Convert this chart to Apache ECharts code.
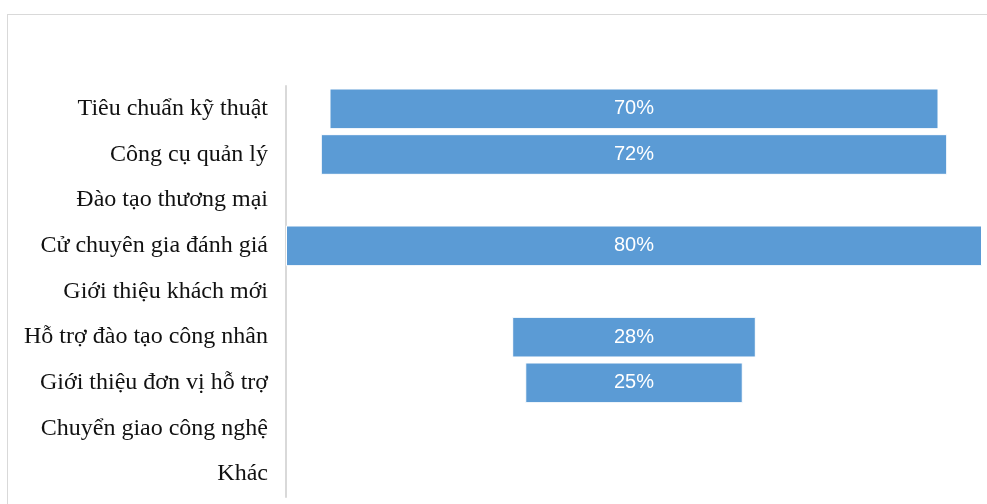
<!DOCTYPE html>
<html>
<head>
<meta charset="utf-8">
<script src="https://cdn.jsdelivr.net/npm/echarts@6/dist/echarts.min.js"></script>
<style>
  html, body { margin: 0; padding: 0; background: #fff; }
  #chart { position: absolute; left: 0; top: 0; width: 987px; height: 504px; }
  #frame { position: absolute; left: 7px; top: 14px; width: 985px; height: 495px;
           border-top: 1px solid #d9d9d9; border-left: 1px solid #d9d9d9; pointer-events: none; }
</style>
</head>
<body>
<div id="chart"></div>
<div id="frame"></div>
<script>
const categories = [
  'Tiêu chuẩn kỹ thuật',
  'Công cụ quản lý',
  'Đào tạo thương mại',
  'Cử chuyên gia đánh giá',
  'Giới thiệu khách mới',
  'Hỗ trợ đào tạo công nhân',
  'Giới thiệu đơn vị hỗ trợ',
  'Chuyển giao công nghệ',
  'Khác'
];
const values = [70, 72, 0, 80, 0, 28, 25, 0, 0];
const axisMax = 80;

const offsets = values.map(v => (axisMax - v) / 2);

const chart = echarts.init(document.getElementById('chart'));
chart.setOption({
  animation: false,
  grid: { left: 286, right: 5, top: 86, bottom: 7, containLabel: false },
  xAxis: {
    type: 'value', min: 0, max: axisMax, show: false
  },
  yAxis: {
    type: 'category',
    data: categories,
    inverse: true,
    axisLine: { show: true, lineStyle: { color: '#d9d9d9', width: 2 } },
    axisTick: { show: false },
    axisLabel: {
      color: '#111111',
      fontFamily: '"Liberation Serif", "Times New Roman", serif',
      fontSize: 24,
      margin: 18
    }
  },
  series: [
    {
      type: 'bar', stack: 'f', data: offsets, barWidth: '89%',
      itemStyle: { color: 'transparent' }, silent: true
    },
    {
      type: 'bar', stack: 'f', data: values, barWidth: '89%',
      itemStyle: { color: '#5b9bd5', borderColor: '#ffffff', borderWidth: 1 },
      label: {
        show: true, position: 'inside', color: '#ffffff',
        fontFamily: '"Liberation Sans", Arial, sans-serif', fontSize: 20,
        formatter: p => (p.value > 0 ? p.value + '%' : '')
      }
    }
  ]
});
</script>
</body>
</html>
